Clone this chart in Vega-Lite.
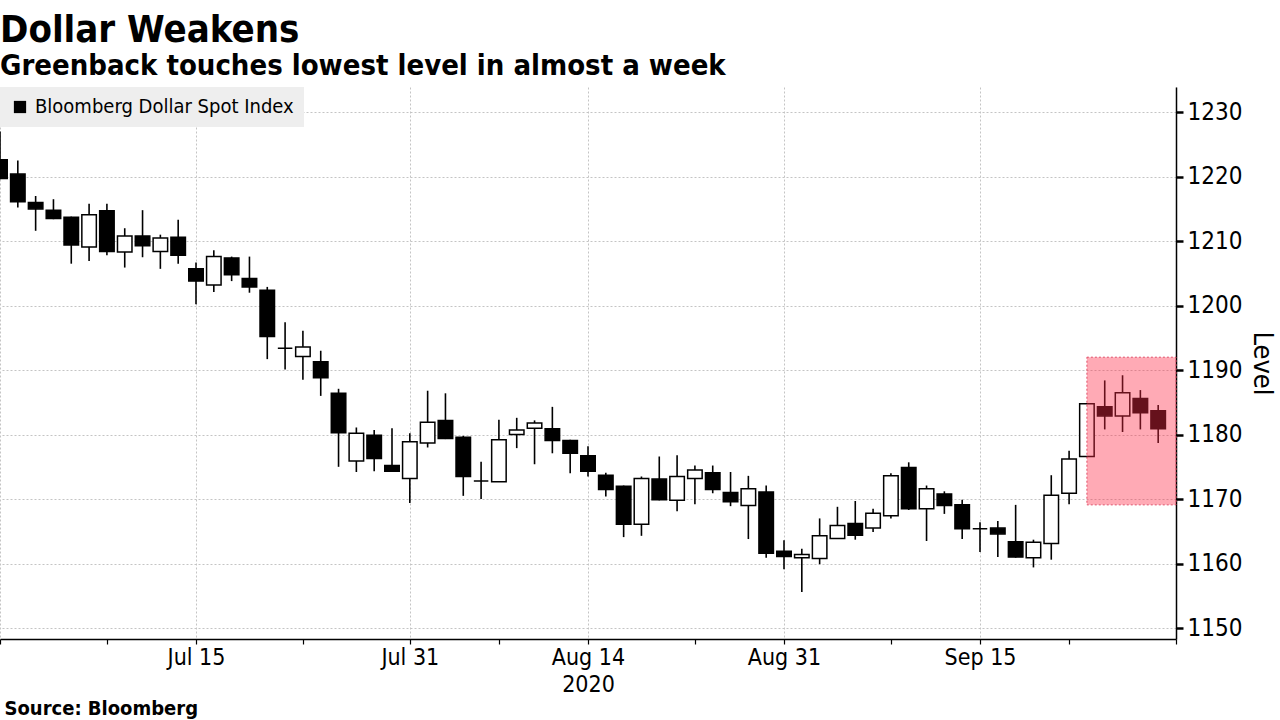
{
  "$schema": "https://vega.github.io/schema/vega-lite/v6.json",
  "width": 1176,
  "height": 552,
  "autosize": {"type": "none"},
  "padding": {"left": 0, "top": 87, "right": 104, "bottom": 81},
  "background": "white",
  "title": {
    "text": "Dollar Weakens",
    "subtitle": "Greenback touches lowest level in almost a week",
    "anchor": "start",
    "frame": "group",
    "font": "DejaVu Sans Condensed, DejaVu Sans, sans-serif",
    "fontSize": 38,
    "fontWeight": "bold",
    "color": "black",
    "subtitleFont": "DejaVu Sans Condensed, DejaVu Sans, sans-serif",
    "subtitleFontSize": 29,
    "subtitleFontWeight": "bold",
    "subtitleColor": "black",
    "subtitlePadding": 2,
    "offset": 6
  },
  "config": {
    "view": {"stroke": null},
    "font": "DejaVu Sans Condensed, DejaVu Sans, sans-serif"
  },
  "datasets": {
    "ohlc": [
      {"date": "2020-06-30", "open": 1222.6, "high": 1227.0, "low": 1219.6, "close": 1219.7},
      {"date": "2020-07-01", "open": 1220.4, "high": 1222.5, "low": 1215.2, "close": 1216.1},
      {"date": "2020-07-02", "open": 1216.0, "high": 1217.0, "low": 1211.6, "close": 1215.0},
      {"date": "2020-07-03", "open": 1214.8, "high": 1216.5, "low": 1213.4, "close": 1213.5},
      {"date": "2020-07-06", "open": 1213.7, "high": 1213.8, "low": 1206.5, "close": 1209.4},
      {"date": "2020-07-07", "open": 1209.1, "high": 1215.8, "low": 1206.9, "close": 1214.1},
      {"date": "2020-07-08", "open": 1214.7, "high": 1215.8, "low": 1207.8, "close": 1208.4},
      {"date": "2020-07-09", "open": 1208.3, "high": 1212.0, "low": 1205.9, "close": 1210.8},
      {"date": "2020-07-10", "open": 1210.8, "high": 1214.8, "low": 1207.5, "close": 1209.3},
      {"date": "2020-07-13", "open": 1208.4, "high": 1211.0, "low": 1205.7, "close": 1210.5},
      {"date": "2020-07-14", "open": 1210.6, "high": 1213.3, "low": 1206.5, "close": 1207.8},
      {"date": "2020-07-15", "open": 1205.7, "high": 1206.7, "low": 1200.2, "close": 1203.8},
      {"date": "2020-07-16", "open": 1203.2, "high": 1208.6, "low": 1202.1, "close": 1207.6},
      {"date": "2020-07-17", "open": 1207.4, "high": 1207.6, "low": 1203.8, "close": 1204.8},
      {"date": "2020-07-20", "open": 1204.2, "high": 1207.6, "low": 1202.0, "close": 1202.9},
      {"date": "2020-07-21", "open": 1202.4, "high": 1202.9, "low": 1191.7, "close": 1195.2},
      {"date": "2020-07-22", "open": 1193.4, "high": 1197.4, "low": 1190.1, "close": 1193.4},
      {"date": "2020-07-23", "open": 1192.1, "high": 1196.1, "low": 1188.5, "close": 1193.6},
      {"date": "2020-07-24", "open": 1191.3, "high": 1193.0, "low": 1186.0, "close": 1188.8},
      {"date": "2020-07-27", "open": 1186.4, "high": 1187.1, "low": 1175.0, "close": 1180.3},
      {"date": "2020-07-28", "open": 1175.9, "high": 1181.1, "low": 1174.2, "close": 1180.2},
      {"date": "2020-07-29", "open": 1179.9, "high": 1180.7, "low": 1174.3, "close": 1176.3},
      {"date": "2020-07-30", "open": 1175.2, "high": 1181.0, "low": 1174.2, "close": 1174.3},
      {"date": "2020-07-31", "open": 1173.2, "high": 1180.2, "low": 1169.4, "close": 1178.9},
      {"date": "2020-08-03", "open": 1178.7, "high": 1186.8, "low": 1178.0, "close": 1181.9},
      {"date": "2020-08-04", "open": 1182.2, "high": 1186.4, "low": 1179.3, "close": 1179.4},
      {"date": "2020-08-05", "open": 1179.6, "high": 1179.8, "low": 1170.5, "close": 1173.5},
      {"date": "2020-08-06", "open": 1172.8, "high": 1175.8, "low": 1170.0, "close": 1172.8},
      {"date": "2020-08-07", "open": 1172.7, "high": 1182.3, "low": 1172.7, "close": 1179.2},
      {"date": "2020-08-10", "open": 1180.0, "high": 1182.6, "low": 1177.9, "close": 1180.7},
      {"date": "2020-08-11", "open": 1181.0, "high": 1182.2, "low": 1175.4, "close": 1181.8},
      {"date": "2020-08-12", "open": 1180.9, "high": 1184.3, "low": 1177.1, "close": 1179.1},
      {"date": "2020-08-13", "open": 1179.1, "high": 1179.2, "low": 1174.0, "close": 1177.1},
      {"date": "2020-08-14", "open": 1176.7, "high": 1178.2, "low": 1173.5, "close": 1174.3},
      {"date": "2020-08-17", "open": 1173.7, "high": 1174.1, "low": 1170.4, "close": 1171.5},
      {"date": "2020-08-18", "open": 1172.0, "high": 1172.1, "low": 1164.1, "close": 1166.1},
      {"date": "2020-08-19", "open": 1166.1, "high": 1173.5, "low": 1164.3, "close": 1173.2},
      {"date": "2020-08-20", "open": 1173.1, "high": 1176.6, "low": 1169.8, "close": 1169.9},
      {"date": "2020-08-21", "open": 1169.8, "high": 1176.8, "low": 1168.1, "close": 1173.5},
      {"date": "2020-08-24", "open": 1173.2, "high": 1175.2, "low": 1169.2, "close": 1174.5},
      {"date": "2020-08-25", "open": 1174.1, "high": 1175.2, "low": 1170.9, "close": 1171.5},
      {"date": "2020-08-26", "open": 1171.0, "high": 1174.2, "low": 1168.9, "close": 1169.6},
      {"date": "2020-08-27", "open": 1169.0, "high": 1173.6, "low": 1163.8, "close": 1171.6},
      {"date": "2020-08-28", "open": 1171.1, "high": 1172.1, "low": 1160.9, "close": 1161.6},
      {"date": "2020-08-31", "open": 1161.9, "high": 1163.6, "low": 1159.1, "close": 1161.1},
      {"date": "2020-09-01", "open": 1160.9, "high": 1162.3, "low": 1155.6, "close": 1161.4},
      {"date": "2020-09-02", "open": 1160.8, "high": 1167.0, "low": 1159.9, "close": 1164.3},
      {"date": "2020-09-03", "open": 1163.9, "high": 1168.8, "low": 1163.9, "close": 1165.9},
      {"date": "2020-09-04", "open": 1166.2, "high": 1169.7, "low": 1163.7, "close": 1164.4},
      {"date": "2020-09-07", "open": 1165.5, "high": 1168.5, "low": 1164.9, "close": 1167.8},
      {"date": "2020-09-08", "open": 1167.4, "high": 1174.0, "low": 1167.0, "close": 1173.6},
      {"date": "2020-09-09", "open": 1174.9, "high": 1175.7, "low": 1168.3, "close": 1168.5},
      {"date": "2020-09-10", "open": 1168.5, "high": 1172.1, "low": 1163.5, "close": 1171.6},
      {"date": "2020-09-11", "open": 1170.8, "high": 1171.2, "low": 1167.7, "close": 1169.0},
      {"date": "2020-09-14", "open": 1169.1, "high": 1169.9, "low": 1163.8, "close": 1165.4},
      {"date": "2020-09-15", "open": 1165.4, "high": 1166.4, "low": 1161.8, "close": 1165.4},
      {"date": "2020-09-16", "open": 1165.5, "high": 1166.6, "low": 1161.0, "close": 1164.6},
      {"date": "2020-09-17", "open": 1163.4, "high": 1169.1, "low": 1160.9, "close": 1161.0},
      {"date": "2020-09-18", "open": 1160.9, "high": 1163.7, "low": 1159.4, "close": 1163.3},
      {"date": "2020-09-21", "open": 1163.1, "high": 1173.7, "low": 1160.6, "close": 1170.6},
      {"date": "2020-09-22", "open": 1170.9, "high": 1177.5, "low": 1169.2, "close": 1176.2},
      {"date": "2020-09-23", "open": 1176.6, "high": 1184.9, "low": 1176.5, "close": 1184.8},
      {"date": "2020-09-24", "open": 1184.3, "high": 1188.4, "low": 1180.8, "close": 1182.9},
      {"date": "2020-09-25", "open": 1182.9, "high": 1189.2, "low": 1180.4, "close": 1186.5},
      {"date": "2020-09-28", "open": 1185.6, "high": 1186.9, "low": 1180.8, "close": 1183.4},
      {"date": "2020-09-29", "open": 1183.7, "high": 1184.6, "low": 1178.7, "close": 1180.9}
    ],
    "highlight": [
      {"start": "2020-09-23", "end": "2020-09-30", "bottom": 1169.1, "top": 1192.0}
    ]
  },
  "layer": [
    {
      "data": {"name": "ohlc"},
      "mark": {"type": "rule", "strokeWidth": 1.6},
      "encoding": {
        "x": {
          "field": "date",
          "type": "ordinal",
          "scale": {"type": "point", "padding": 0},
          "axis": {
            "values": ["2020-06-30", "2020-07-08", "2020-07-15", "2020-07-23", "2020-07-31", "2020-08-07", "2020-08-14", "2020-08-24", "2020-08-31", "2020-09-08", "2020-09-15", "2020-09-22", "2020-09-30"],
            "labelExpr": "datum.value == '2020-07-15' ? 'Jul 15' : datum.value == '2020-07-31' ? 'Jul 31' : datum.value == '2020-08-14' ? ['Aug 14', '2020'] : datum.value == '2020-08-31' ? 'Aug 31' : datum.value == '2020-09-15' ? 'Sep 15' : ''",
            "labelAngle": 0,
            "labelFontSize": 23,
            "labelColor": "black",
            "labelPadding": 2,
            "labelLineHeight": 27,
            "grid": true,
            "gridColor": "#c4c4c4",
            "gridDash": [2, 2],
            "gridWidth": 1,
            "gridOpacity": {"condition": {"test": "indexof(['2020-07-08','2020-07-23','2020-08-07','2020-08-24','2020-09-08','2020-09-22'], datum.value) >= 0", "value": 0}, "value": 1},
            "tickColor": "black",
            "tickSize": 5,
            "tickWidth": 1.2,
            "domainColor": "black",
            "domainWidth": 1.5,
            "title": "Source: Bloomberg",
            "titleAnchor": "start",
            "titleAlign": "left",
            "titleX": 4,
            "titleFontSize": 20,
            "titleFontWeight": "bold",
            "titleColor": "black",
            "titlePadding": 2
          }
        },
        "y": {
          "field": "low",
          "type": "quantitative",
          "scale": {"domain": [1148.3, 1233.9], "nice": false, "zero": false},
          "axis": {
            "orient": "right",
            "values": [1150, 1155, 1160, 1165, 1170, 1175, 1180, 1185, 1190, 1195, 1200, 1205, 1210, 1215, 1220, 1225, 1230],
            "format": "d",
            "labelExpr": "datum.value % 10 == 0 ? datum.label : ''",
            "labelFontSize": 24,
            "labelColor": "black",
            "labelPadding": 4,
            "grid": true,
            "gridColor": "#c4c4c4",
            "gridDash": [2, 2],
            "gridOpacity": {"condition": {"test": "datum.value % 10 != 0", "value": 0}, "value": 1},
            "tickColor": "black",
            "tickSize": {"condition": {"test": "datum.value % 10 != 0", "value": 5}, "value": 7},
            "tickWidth": {"condition": {"test": "datum.value % 10 != 0", "value": 1}, "value": 2.5},
            "domainColor": "black",
            "domainWidth": 1.5,
            "title": "Level",
            "titleFontSize": 27,
            "titleFontWeight": "normal",
            "titleColor": "black",
            "titlePadding": 6
          }
        },
        "y2": {"field": "high"},
        "stroke": {
          "datum": "Bloomberg Dollar Spot Index",
          "scale": {"range": ["black"]},
          "legend": {
            "title": null,
            "orient": "top-left",
            "offset": 0,
            "symbolType": "square",
            "symbolFillColor": "black",
            "symbolStrokeColor": "black",
            "symbolSize": 150,
            "symbolStrokeWidth": 0,
            "labelFontSize": 20,
            "labelLimit": 0,
            "labelColor": "black",
            "labelOffset": 5,
            "fillColor": "#eeeeee",
            "padding": 10
          }
        }
      }
    },
    {
      "data": {"name": "ohlc"},
      "mark": {"type": "bar", "width": 14.5, "stroke": "black", "strokeWidth": 1.5},
      "encoding": {
        "x": {"field": "date", "type": "ordinal"},
        "y": {"field": "open", "type": "quantitative"},
        "y2": {"field": "close"},
        "fill": {
          "condition": {"test": "datum.close >= datum.open", "value": "white"},
          "value": "black"
        }
      }
    },
    {
      "data": {"name": "highlight"},
      "mark": {"type": "rect", "fill": "#ff2a45", "fillOpacity": 0.4, "stroke": "#e0506a", "strokeDash": [2, 2], "strokeWidth": 1},
      "encoding": {
        "x": {"field": "start", "type": "ordinal"},
        "x2": {"field": "end"},
        "y": {"field": "bottom", "type": "quantitative"},
        "y2": {"field": "top"}
      }
    }
  ]
}
